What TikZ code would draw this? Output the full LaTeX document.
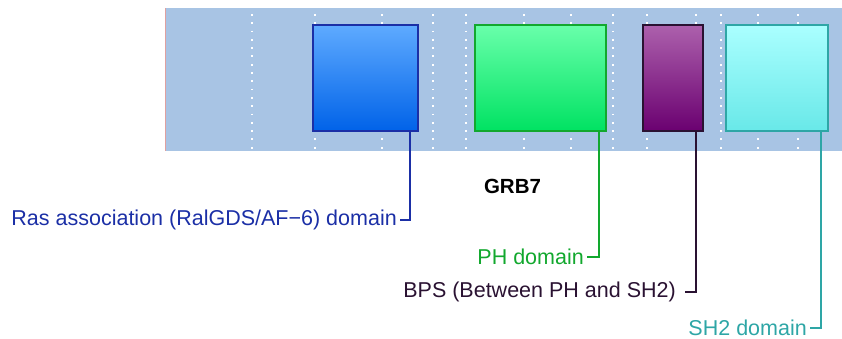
\documentclass[tikz,border=0pt]{standalone}
\usepackage{fontspec}
\setmainfont{Liberation Sans}
\definecolor{bgband}{HTML}{A8C4E4}
\definecolor{rasc}{HTML}{1B2FA6}
\definecolor{phc}{HTML}{12A82E}
\definecolor{bpsc}{HTML}{2A1232}
\definecolor{shc}{HTML}{2EA6A6}
\begin{document}
\begin{tikzpicture}[x=1pt,y=-1pt,
  dom/.style={draw, line width=2pt, minimum height=106pt, inner sep=0pt, anchor=center},
  lbl/.style={font=\fontsize{21.5}{25}\selectfont, inner ysep=0pt, inner xsep=3pt, anchor=east},
  conn/.style={line width=2pt},
  dots/.style={white, line width=1.8pt, dash pattern=on 1.8pt off 6.5pt}]
\useasboundingbox (0,0) rectangle (842,339);
% background band
\fill[bgband] (165,8) rectangle (842,151);
\draw[color={rgb,255:red,224;green,160;blue,160}, line width=0.8pt] (165.4,8) -- (165.4,151);
% dotted guides
\foreach \gx in {252,315,382,433,466,524,571,613,647,696,721,758,798}{
  \draw[dots] (\gx,14) -- (\gx,150);
}
% domains
\node[dom, minimum width=105pt, draw=rasc, top color={rgb,255:red,94;green,170;blue,255}, bottom color={rgb,255:red,0;green,98;blue,232}] (ra) at (365,78.5) {};
\node[dom, minimum width=131pt, draw=phc, top color={rgb,255:red,104;green,255;blue,170}, bottom color={rgb,255:red,0;green,226;blue,98}] (ph) at (540,78.5) {};
\node[dom, minimum width=60pt, draw=bpsc, top color={rgb,255:red,172;green,96;blue,172}, bottom color={rgb,255:red,106;green,0;blue,112}] (bps) at (672.5,78.5) {};
\node[dom, minimum width=102pt, draw=shc, top color={rgb,255:red,170;green,255;blue,255}, bottom color={rgb,255:red,104;green,232;blue,232}] (sh) at (776.5,78.5) {};
% title
\node[font=\fontsize{20.5}{24}\selectfont\bfseries, inner sep=0pt] (title) at (512.5,186.5) {GRB7};
% labels
\node[lbl, text=rasc] (rasl) at (400,220) {Ras association (RalGDS/AF\textminus6) domain};
\node[lbl, text=phc] (phl) at (587,257) {PH domain};
\node[lbl, text=bpsc, inner xsep=9pt] (bpsl) at (685,292) {BPS (Between PH and SH2)};
\node[lbl, text=shc] (shl) at (810,328) {SH2 domain};
% connector start points
\coordinate (ras0) at (409.5,132);
\coordinate (ph0) at (598.5,132);
\coordinate (bps0) at (695.5,132);
\coordinate (sh0) at (820.5,132);
\draw[conn, rasc] (ras0) |- (rasl.east);
\draw[conn, phc] (ph0) |- (phl.east);
\draw[conn, bpsc] (bps0) |- (bpsl.east);
\draw[conn, shc] (sh0) |- (shl.east);
\end{tikzpicture}
\end{document}
